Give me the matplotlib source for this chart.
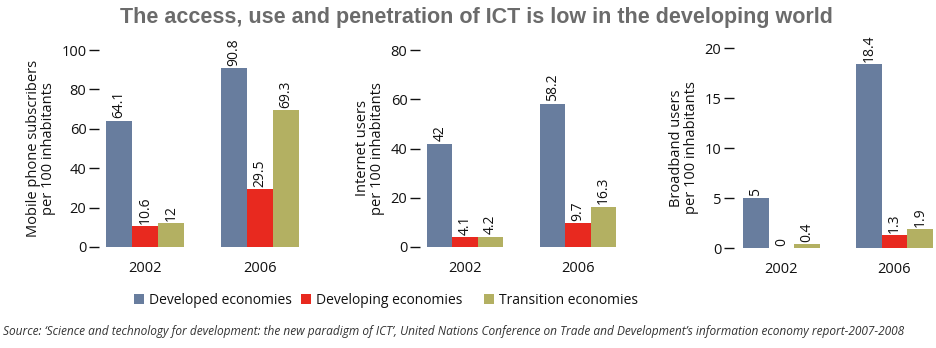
import matplotlib
matplotlib.use("Agg")
import matplotlib.pyplot as plt
import numpy as np
from matplotlib.patches import Patch

plt.rcParams['font.family'] = ['Open Sans', 'DejaVu Sans']

years = ["2002", "2006"]
series = ["Developed economies", "Developing economies", "Transition economies"]
colors = ["#687d9e", "#e8291f", "#b3b062"]

mobile = {"Developed economies": [64.1, 90.8],
          "Developing economies": [10.6, 29.5],
          "Transition economies": [12, 69.3]}
internet = {"Developed economies": [42, 58.2],
            "Developing economies": [4.1, 9.7],
            "Transition economies": [4.2, 16.3]}
broadband = {"Developed economies": [5, 18.4],
             "Developing economies": [0, 1.3],
             "Transition economies": [0.4, 1.9]}

ylabels = ["Mobile phone subscribers\nper 100 inhabitants",
           "Internet users\nper 100 inhabitants",
           "Broadband users\nper 100 inhabitants"]
yticks = [[0, 20, 40, 60, 80, 100], [0, 20, 40, 60, 80], [0, 5, 10, 15, 20]]
ylims = [(0, 100), (0, 80), (0, 20)]

W, H = 937, 348
fig = plt.figure(figsize=(W / 100, H / 100), dpi=100)

# panel geometry in pixels: left, bottom(y of zero), top, xlim
panels = [
    (99, 247, 50, (-0.40, 1.40)),
    (420, 247, 50, (-0.40, 1.40)),
    (734, 248, 48, (-0.42, 1.36)),
]
spacing = [115, 113, 113]
datasets = [mobile, internet, broadband]

bw = 0.225
x = np.arange(len(years))
for i, (data, (lpx, bpx, tpx, xl)) in enumerate(zip(datasets, panels)):
    wpx = (xl[1] - xl[0]) * spacing[i]
    ax = fig.add_axes([lpx / W, 1 - bpx / H, wpx / W, (bpx - tpx) / H])
    for j, s in enumerate(series):
        vals = data[s]
        pos = x + (j - 1) * bw
        ax.bar(pos, vals, width=bw, color=colors[j], linewidth=0)
        for p, v in zip(pos, vals):
            ax.text(p, v + ylims[i][1] * 0.012, f"{v:g}", rotation=90,
                    ha="center", va="bottom", fontsize=10, color="#111111")
    ax.set_xlim(*xl)
    ax.set_ylim(*ylims[i])
    ax.set_yticks(yticks[i])
    ax.set_xticks(x)
    ax.set_xticklabels(years)
    for sp in ax.spines.values():
        sp.set_visible(False)
    ax.tick_params(axis="y", length=7, width=1, pad=2, labelsize=10.5,
                   color="#111111", labelcolor="#111111")
    ax.tick_params(axis="x", length=0, pad=10, labelsize=10.5,
                   labelcolor="#111111")
    ax.set_ylabel(ylabels[i], fontsize=10.5, color="#111111", labelpad=4,
                  linespacing=1.0)
    ax.patch.set_alpha(0)

fig.text(476 / W, 1 - 17 / H,
         "The access, use and penetration of ICT is low in the developing world",
         ha="center", va="center", fontsize=15.5, fontweight="bold",
         color="#6b6b6b", family=["Liberation Sans", "DejaVu Sans"])

# legend entries, one per series
legend_x = [134, 301, 484]
for s, c, lx in zip(series, colors, legend_x):
    leg = fig.legend([Patch(facecolor=c, edgecolor="none")], [s],
                     loc="center left", bbox_to_anchor=(lx / W, 1 - 300 / H),
                     frameon=False, fontsize=10, handlelength=0.75,
                     handleheight=0.75, handletextpad=0.3, borderaxespad=0,
                     borderpad=0)
    for t in leg.get_texts():
        t.set_color("#111111")

fig.text(3 / W, 1 - 331 / H,
         "Source: \u2018Science and technology for development: the new paradigm of ICT\u2019, "
         "United Nations Conference on Trade and Development\u2019s information economy report-2007-2008",
         ha="left", va="center", fontsize=8.55, style="italic", color="#333333")

fig.savefig("out.png", dpi=100)
